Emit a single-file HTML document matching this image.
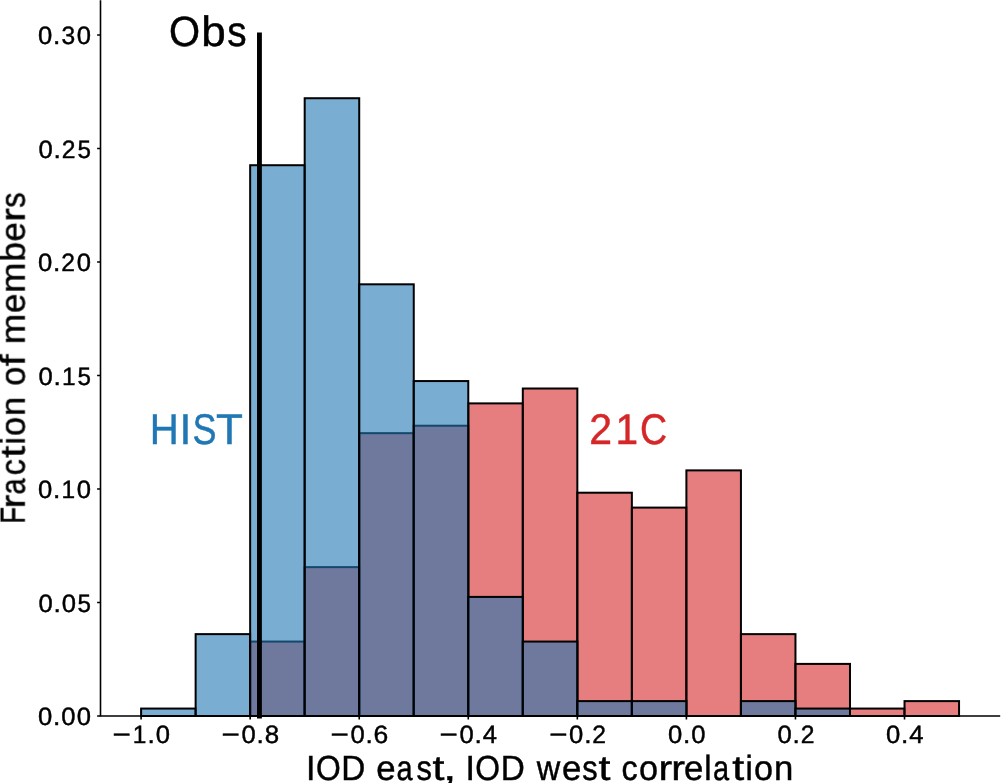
<!DOCTYPE html>
<html><head><meta charset="utf-8"><title>IOD correlation histogram</title><style>
html,body{margin:0;padding:0;background:#fff;overflow:hidden;}
svg{display:block;}
text{font-family:"Liberation Sans",sans-serif;text-rendering:geometricPrecision;}
</style></head><body>
<svg width="1001" height="783" viewBox="0 0 1001 783">
<rect x="0" y="0" width="1001" height="783" fill="#fff"/>
<rect x="141.10" y="716.00" width="54.53" height="0.00" fill="#d62728" fill-opacity="0.6" stroke="#000" stroke-width="2.0"/>
<rect x="195.63" y="716.00" width="54.53" height="0.00" fill="#d62728" fill-opacity="0.6" stroke="#000" stroke-width="2.0"/>
<rect x="250.16" y="641.57" width="54.53" height="74.43" fill="#d62728" fill-opacity="0.6" stroke="#000" stroke-width="2.0"/>
<rect x="304.69" y="567.14" width="54.53" height="148.86" fill="#d62728" fill-opacity="0.6" stroke="#000" stroke-width="2.0"/>
<rect x="359.22" y="433.17" width="54.53" height="282.83" fill="#d62728" fill-opacity="0.6" stroke="#000" stroke-width="2.0"/>
<rect x="413.75" y="425.72" width="54.53" height="290.28" fill="#d62728" fill-opacity="0.6" stroke="#000" stroke-width="2.0"/>
<rect x="468.28" y="403.39" width="54.53" height="312.61" fill="#d62728" fill-opacity="0.6" stroke="#000" stroke-width="2.0"/>
<rect x="522.81" y="388.51" width="54.53" height="327.49" fill="#d62728" fill-opacity="0.6" stroke="#000" stroke-width="2.0"/>
<rect x="577.34" y="492.71" width="54.53" height="223.29" fill="#d62728" fill-opacity="0.6" stroke="#000" stroke-width="2.0"/>
<rect x="631.87" y="507.60" width="54.53" height="208.40" fill="#d62728" fill-opacity="0.6" stroke="#000" stroke-width="2.0"/>
<rect x="686.40" y="470.38" width="54.53" height="245.62" fill="#d62728" fill-opacity="0.6" stroke="#000" stroke-width="2.0"/>
<rect x="740.93" y="634.13" width="54.53" height="81.87" fill="#d62728" fill-opacity="0.6" stroke="#000" stroke-width="2.0"/>
<rect x="795.46" y="663.90" width="54.53" height="52.10" fill="#d62728" fill-opacity="0.6" stroke="#000" stroke-width="2.0"/>
<rect x="849.99" y="708.56" width="54.53" height="7.44" fill="#d62728" fill-opacity="0.6" stroke="#000" stroke-width="2.0"/>
<rect x="904.52" y="701.11" width="54.53" height="14.89" fill="#d62728" fill-opacity="0.6" stroke="#000" stroke-width="2.0"/>
<rect x="141.10" y="708.56" width="54.53" height="7.44" fill="#1f77b4" fill-opacity="0.6" stroke="#000" stroke-width="2.0"/>
<rect x="195.63" y="634.13" width="54.53" height="81.87" fill="#1f77b4" fill-opacity="0.6" stroke="#000" stroke-width="2.0"/>
<rect x="250.16" y="165.22" width="54.53" height="550.78" fill="#1f77b4" fill-opacity="0.6" stroke="#000" stroke-width="2.0"/>
<rect x="304.69" y="98.23" width="54.53" height="617.77" fill="#1f77b4" fill-opacity="0.6" stroke="#000" stroke-width="2.0"/>
<rect x="359.22" y="284.31" width="54.53" height="431.69" fill="#1f77b4" fill-opacity="0.6" stroke="#000" stroke-width="2.0"/>
<rect x="413.75" y="381.06" width="54.53" height="334.94" fill="#1f77b4" fill-opacity="0.6" stroke="#000" stroke-width="2.0"/>
<rect x="468.28" y="596.91" width="54.53" height="119.09" fill="#1f77b4" fill-opacity="0.6" stroke="#000" stroke-width="2.0"/>
<rect x="522.81" y="641.57" width="54.53" height="74.43" fill="#1f77b4" fill-opacity="0.6" stroke="#000" stroke-width="2.0"/>
<rect x="577.34" y="701.11" width="54.53" height="14.89" fill="#1f77b4" fill-opacity="0.6" stroke="#000" stroke-width="2.0"/>
<rect x="631.87" y="701.11" width="54.53" height="14.89" fill="#1f77b4" fill-opacity="0.6" stroke="#000" stroke-width="2.0"/>
<rect x="686.40" y="716.00" width="54.53" height="0.00" fill="#1f77b4" fill-opacity="0.6" stroke="#000" stroke-width="2.0"/>
<rect x="740.93" y="701.11" width="54.53" height="14.89" fill="#1f77b4" fill-opacity="0.6" stroke="#000" stroke-width="2.0"/>
<rect x="795.46" y="708.56" width="54.53" height="7.44" fill="#1f77b4" fill-opacity="0.6" stroke="#000" stroke-width="2.0"/>
<rect x="849.99" y="716.00" width="54.53" height="0.00" fill="#1f77b4" fill-opacity="0.6" stroke="#000" stroke-width="2.0"/>
<rect x="904.52" y="716.00" width="54.53" height="0.00" fill="#1f77b4" fill-opacity="0.6" stroke="#000" stroke-width="2.0"/>
<path d="M100.5 0.35V716.0M99.70 716.0H1000.2" fill="none" stroke="#000" stroke-width="1.6"/>
<path d="M97.10 716.00H100.5M97.10 602.49H100.5M97.10 488.99H100.5M97.10 375.48H100.5M97.10 261.98H100.5M97.10 148.47H100.5M97.10 34.97H100.5M141.10 716.0V719.40M250.16 716.0V719.40M359.22 716.0V719.40M468.28 716.0V719.40M577.34 716.0V719.40M686.40 716.0V719.40M795.46 716.0V719.40M904.52 716.0V719.40" fill="none" stroke="#000" stroke-width="1.6"/>
<line x1="259.45" y1="34.97" x2="259.45" y2="716.00" stroke="#000" stroke-width="4.87" stroke-linecap="square"/>
<g opacity="0.999">
<text transform="translate(37.41 725.15)" font-size="25.20" fill="#000" stroke="#000" stroke-width="0.45"><tspan x="0.60" textLength="14.25" lengthAdjust="spacingAndGlyphs">0</tspan><tspan x="15.65" textLength="7.31" lengthAdjust="spacingAndGlyphs">.</tspan><tspan x="23.79" textLength="14.25" lengthAdjust="spacingAndGlyphs">0</tspan><tspan x="39.25" textLength="14.25" lengthAdjust="spacingAndGlyphs">0</tspan></text>
<text transform="translate(37.92 611.64)" font-size="25.20" fill="#000" stroke="#000" stroke-width="0.45"><tspan x="0.60" textLength="14.25" lengthAdjust="spacingAndGlyphs">0</tspan><tspan x="15.65" textLength="7.31" lengthAdjust="spacingAndGlyphs">.</tspan><tspan x="23.79" textLength="14.25" lengthAdjust="spacingAndGlyphs">0</tspan><tspan x="39.55" textLength="13.45" lengthAdjust="spacingAndGlyphs">5</tspan></text>
<text transform="translate(37.41 498.14)" font-size="25.20" fill="#000" stroke="#000" stroke-width="0.45"><tspan x="0.60" textLength="14.25" lengthAdjust="spacingAndGlyphs">0</tspan><tspan x="15.65" textLength="7.31" lengthAdjust="spacingAndGlyphs">.</tspan><tspan x="23.99" textLength="13.61" lengthAdjust="spacingAndGlyphs">1</tspan><tspan x="39.25" textLength="14.25" lengthAdjust="spacingAndGlyphs">0</tspan></text>
<text transform="translate(37.92 384.63)" font-size="25.20" fill="#000" stroke="#000" stroke-width="0.45"><tspan x="0.60" textLength="14.25" lengthAdjust="spacingAndGlyphs">0</tspan><tspan x="15.65" textLength="7.31" lengthAdjust="spacingAndGlyphs">.</tspan><tspan x="23.99" textLength="13.61" lengthAdjust="spacingAndGlyphs">1</tspan><tspan x="39.55" textLength="13.45" lengthAdjust="spacingAndGlyphs">5</tspan></text>
<text transform="translate(37.41 271.13)" font-size="25.20" fill="#000" stroke="#000" stroke-width="0.45"><tspan x="0.60" textLength="14.25" lengthAdjust="spacingAndGlyphs">0</tspan><tspan x="15.65" textLength="7.31" lengthAdjust="spacingAndGlyphs">.</tspan><tspan x="23.72" textLength="13.73" lengthAdjust="spacingAndGlyphs">2</tspan><tspan x="39.25" textLength="14.25" lengthAdjust="spacingAndGlyphs">0</tspan></text>
<text transform="translate(37.92 157.62)" font-size="25.20" fill="#000" stroke="#000" stroke-width="0.45"><tspan x="0.60" textLength="14.25" lengthAdjust="spacingAndGlyphs">0</tspan><tspan x="15.65" textLength="7.31" lengthAdjust="spacingAndGlyphs">.</tspan><tspan x="23.72" textLength="13.73" lengthAdjust="spacingAndGlyphs">2</tspan><tspan x="39.55" textLength="13.45" lengthAdjust="spacingAndGlyphs">5</tspan></text>
<text transform="translate(37.41 44.12)" font-size="25.20" fill="#000" stroke="#000" stroke-width="0.45"><tspan x="0.60" textLength="14.25" lengthAdjust="spacingAndGlyphs">0</tspan><tspan x="15.65" textLength="7.31" lengthAdjust="spacingAndGlyphs">.</tspan><tspan x="24.10" textLength="13.68" lengthAdjust="spacingAndGlyphs">3</tspan><tspan x="39.25" textLength="14.25" lengthAdjust="spacingAndGlyphs">0</tspan></text>
<text transform="translate(111.52 743.00)" font-size="25.20" fill="#000" stroke="#000" stroke-width="0.45"><tspan x="1.03" textLength="18.28" lengthAdjust="spacingAndGlyphs">−</tspan><tspan x="21.17" textLength="13.61" lengthAdjust="spacingAndGlyphs">1</tspan><tspan x="36.02" textLength="7.31" lengthAdjust="spacingAndGlyphs">.</tspan><tspan x="44.15" textLength="14.25" lengthAdjust="spacingAndGlyphs">0</tspan></text>
<text transform="translate(220.60 743.00)" font-size="25.20" fill="#000" stroke="#000" stroke-width="0.45"><tspan x="1.03" textLength="18.28" lengthAdjust="spacingAndGlyphs">−</tspan><tspan x="20.96" textLength="14.25" lengthAdjust="spacingAndGlyphs">0</tspan><tspan x="36.02" textLength="7.31" lengthAdjust="spacingAndGlyphs">.</tspan><tspan x="44.07" textLength="14.40" lengthAdjust="spacingAndGlyphs">8</tspan></text>
<text transform="translate(329.59 743.00)" font-size="25.20" fill="#000" stroke="#000" stroke-width="0.45"><tspan x="1.03" textLength="18.28" lengthAdjust="spacingAndGlyphs">−</tspan><tspan x="20.96" textLength="14.25" lengthAdjust="spacingAndGlyphs">0</tspan><tspan x="36.02" textLength="7.31" lengthAdjust="spacingAndGlyphs">.</tspan><tspan x="43.90" textLength="14.74" lengthAdjust="spacingAndGlyphs">6</tspan></text>
<text transform="translate(438.57 743.00)" font-size="25.20" fill="#000" stroke="#000" stroke-width="0.45"><tspan x="1.03" textLength="18.28" lengthAdjust="spacingAndGlyphs">−</tspan><tspan x="20.96" textLength="14.25" lengthAdjust="spacingAndGlyphs">0</tspan><tspan x="36.02" textLength="7.31" lengthAdjust="spacingAndGlyphs">.</tspan><tspan x="44.15" textLength="14.25" lengthAdjust="spacingAndGlyphs">4</tspan></text>
<text transform="translate(548.17 743.00)" font-size="25.20" fill="#000" stroke="#000" stroke-width="0.45"><tspan x="1.03" textLength="18.28" lengthAdjust="spacingAndGlyphs">−</tspan><tspan x="20.96" textLength="14.25" lengthAdjust="spacingAndGlyphs">0</tspan><tspan x="36.02" textLength="7.31" lengthAdjust="spacingAndGlyphs">.</tspan><tspan x="44.08" textLength="13.73" lengthAdjust="spacingAndGlyphs">2</tspan></text>
<text transform="translate(667.48 743.00)" font-size="25.20" fill="#000" stroke="#000" stroke-width="0.45"><tspan x="0.60" textLength="14.25" lengthAdjust="spacingAndGlyphs">0</tspan><tspan x="15.65" textLength="7.31" lengthAdjust="spacingAndGlyphs">.</tspan><tspan x="23.79" textLength="14.25" lengthAdjust="spacingAndGlyphs">0</tspan></text>
<text transform="translate(776.95 743.00)" font-size="25.20" fill="#000" stroke="#000" stroke-width="0.45"><tspan x="0.60" textLength="14.25" lengthAdjust="spacingAndGlyphs">0</tspan><tspan x="15.65" textLength="7.31" lengthAdjust="spacingAndGlyphs">.</tspan><tspan x="23.72" textLength="13.73" lengthAdjust="spacingAndGlyphs">2</tspan></text>
<text transform="translate(885.48 743.00)" font-size="25.20" fill="#000" stroke="#000" stroke-width="0.45"><tspan x="0.60" textLength="14.25" lengthAdjust="spacingAndGlyphs">0</tspan><tspan x="15.65" textLength="7.31" lengthAdjust="spacingAndGlyphs">.</tspan><tspan x="23.79" textLength="14.25" lengthAdjust="spacingAndGlyphs">4</tspan></text>
<text transform="translate(168.60 46.00)" font-size="42.40" fill="#000" stroke="#000" stroke-width="0.45"><tspan x="0.37" textLength="31.07" lengthAdjust="spacingAndGlyphs">O</tspan><tspan x="32.63" textLength="24.45" lengthAdjust="spacingAndGlyphs">b</tspan><tspan x="58.56" textLength="19.36" lengthAdjust="spacingAndGlyphs">s</tspan></text>
<text transform="translate(149.13 444.00)" font-size="43.00" fill="#1f77b4" stroke="#1f77b4" stroke-width="0.45"><tspan x="0.67" textLength="29.02" lengthAdjust="spacingAndGlyphs">H</tspan><tspan x="30.40" textLength="11.87" lengthAdjust="spacingAndGlyphs">I</tspan><tspan x="43.32" textLength="24.02" lengthAdjust="spacingAndGlyphs">S</tspan><tspan x="66.83" textLength="26.92" lengthAdjust="spacingAndGlyphs">T</tspan></text>
<text transform="translate(588.35 444.00)" font-size="43.00" fill="#d62728" stroke="#d62728" stroke-width="0.45"><tspan x="0.90" textLength="22.83" lengthAdjust="spacingAndGlyphs">2</tspan><tspan x="27.04" textLength="22.62" lengthAdjust="spacingAndGlyphs">1</tspan><tspan x="51.77" textLength="27.09" lengthAdjust="spacingAndGlyphs">C</tspan></text>
<text transform="translate(306.10 780.00)" font-size="34.88" fill="#000" stroke="#000" stroke-width="0.45"><tspan x="0.02" textLength="9.46" lengthAdjust="spacingAndGlyphs">I</tspan><tspan x="9.79" textLength="24.76" lengthAdjust="spacingAndGlyphs">O</tspan><tspan x="35.27" textLength="24.06" lengthAdjust="spacingAndGlyphs">D</tspan><tspan x="59.64"> </tspan><tspan x="70.17" textLength="19.34" lengthAdjust="spacingAndGlyphs">e</tspan><tspan x="90.38" textLength="16.11" lengthAdjust="spacingAndGlyphs">a</tspan><tspan x="110.30" textLength="15.43" lengthAdjust="spacingAndGlyphs">s</tspan><tspan x="126.40" textLength="11.95" lengthAdjust="spacingAndGlyphs">t</tspan><tspan x="137.09" textLength="13.03" lengthAdjust="spacingAndGlyphs">,</tspan><tspan x="149.05"> </tspan><tspan x="159.30" textLength="9.46" lengthAdjust="spacingAndGlyphs">I</tspan><tspan x="169.08" textLength="24.76" lengthAdjust="spacingAndGlyphs">O</tspan><tspan x="194.55" textLength="24.06" lengthAdjust="spacingAndGlyphs">D</tspan><tspan x="218.92"> </tspan><tspan x="230.56" textLength="23.50" lengthAdjust="spacingAndGlyphs">w</tspan><tspan x="255.79" textLength="19.34" lengthAdjust="spacingAndGlyphs">e</tspan><tspan x="276.19" textLength="15.43" lengthAdjust="spacingAndGlyphs">s</tspan><tspan x="292.29" textLength="11.95" lengthAdjust="spacingAndGlyphs">t</tspan><tspan x="304.71"> </tspan><tspan x="315.34" textLength="16.16" lengthAdjust="spacingAndGlyphs">c</tspan><tspan x="332.98" textLength="19.04" lengthAdjust="spacingAndGlyphs">o</tspan><tspan x="352.53" textLength="13.74" lengthAdjust="spacingAndGlyphs">r</tspan><tspan x="365.20" textLength="13.74" lengthAdjust="spacingAndGlyphs">r</tspan><tspan x="377.83" textLength="19.34" lengthAdjust="spacingAndGlyphs">e</tspan><tspan x="398.16" textLength="7.31" lengthAdjust="spacingAndGlyphs">l</tspan><tspan x="406.99" textLength="16.11" lengthAdjust="spacingAndGlyphs">a</tspan><tspan x="426.24" textLength="11.95" lengthAdjust="spacingAndGlyphs">t</tspan><tspan x="439.48" textLength="7.31" lengthAdjust="spacingAndGlyphs">i</tspan><tspan x="447.93" textLength="19.04" lengthAdjust="spacingAndGlyphs">o</tspan><tspan x="467.91" textLength="19.31" lengthAdjust="spacingAndGlyphs">n</tspan></text>
<text transform="translate(24.70 524.77) rotate(-90)" font-size="34.88" fill="#000" stroke="#000" stroke-width="0.45"><tspan x="0.90" textLength="16.86" lengthAdjust="spacingAndGlyphs">F</tspan><tspan x="16.37" textLength="13.74" lengthAdjust="spacingAndGlyphs">r</tspan><tspan x="30.13" textLength="16.11" lengthAdjust="spacingAndGlyphs">a</tspan><tspan x="49.56" textLength="16.16" lengthAdjust="spacingAndGlyphs">c</tspan><tspan x="67.07" textLength="11.95" lengthAdjust="spacingAndGlyphs">t</tspan><tspan x="80.32" textLength="7.31" lengthAdjust="spacingAndGlyphs">i</tspan><tspan x="88.77" textLength="19.04" lengthAdjust="spacingAndGlyphs">o</tspan><tspan x="108.75" textLength="19.31" lengthAdjust="spacingAndGlyphs">n</tspan><tspan x="128.54"> </tspan><tspan x="139.11" textLength="19.04" lengthAdjust="spacingAndGlyphs">o</tspan><tspan x="158.62" textLength="11.75" lengthAdjust="spacingAndGlyphs">f</tspan><tspan x="169.81"> </tspan><tspan x="180.53" textLength="30.56" lengthAdjust="spacingAndGlyphs">m</tspan><tspan x="211.71" textLength="19.34" lengthAdjust="spacingAndGlyphs">e</tspan><tspan x="231.71" textLength="30.56" lengthAdjust="spacingAndGlyphs">m</tspan><tspan x="263.26" textLength="19.49" lengthAdjust="spacingAndGlyphs">b</tspan><tspan x="283.33" textLength="19.34" lengthAdjust="spacingAndGlyphs">e</tspan><tspan x="303.03" textLength="13.74" lengthAdjust="spacingAndGlyphs">r</tspan><tspan x="316.97" textLength="15.43" lengthAdjust="spacingAndGlyphs">s</tspan></text>
</g>
</svg>
</body></html>
